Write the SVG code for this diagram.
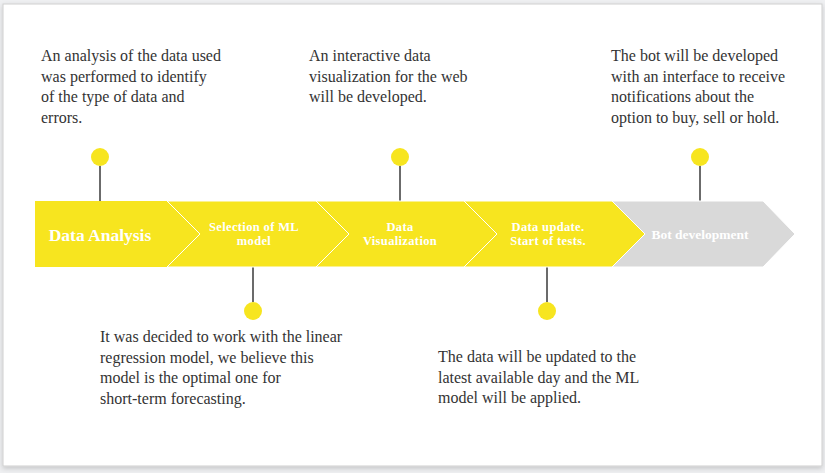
<svg xmlns="http://www.w3.org/2000/svg" width="825" height="473" viewBox="0 0 825 473">
  <defs>
    <filter id="shadow" x="-5%" y="-5%" width="110%" height="115%">
      <feDropShadow dx="0" dy="2" stdDeviation="2.5" flood-color="#000" flood-opacity="0.18"/>
    </filter>
  </defs>
  <style>
    .step { fill: #f7e51f; stroke: #ffffff; stroke-width: 1; }
    .step-next { fill: #d9d9d9; stroke: #ffffff; stroke-width: 1; }
    .label { font-family: "Liberation Serif", "DejaVu Serif", serif; font-weight: bold; fill: #ffffff; text-anchor: middle; font-size: 12.5px; letter-spacing: 0.35px; }
    .note { font-family: "Liberation Serif", "DejaVu Serif", serif; font-size: 16px; fill: #333333; }
    .pin-dot { fill: #f7e51f; }
    .pin-line { stroke: #6b6b6b; stroke-width: 2; }
  </style>

  <!-- page background and slide -->
  <rect x="0" y="0" width="825" height="473" fill="#eff0f2"/>
  <rect x="3" y="4" width="819" height="462" fill="#ffffff" stroke="#cfcfcf" stroke-width="1" filter="url(#shadow)"/>

  <!-- connectors: pins from steps to notes -->
  <g id="connectors">
    <line class="pin-line" x1="100" y1="166" x2="100" y2="201"/>
    <line class="pin-line" x1="253" y1="267" x2="253" y2="302"/>
    <line class="pin-line" x1="400" y1="166" x2="400" y2="201"/>
    <line class="pin-line" x1="547" y1="267" x2="547" y2="302"/>
    <line class="pin-line" x1="700" y1="166" x2="700" y2="201"/>
    <circle class="pin-dot" cx="100" cy="157" r="9"/>
    <circle class="pin-dot" cx="253" cy="311" r="9"/>
    <circle class="pin-dot" cx="400" cy="157" r="9"/>
    <circle class="pin-dot" cx="547" cy="311" r="9"/>
    <circle class="pin-dot" cx="700" cy="157" r="9"/>
  </g>

  <!-- timeline steps (last one drawn first so the yellow tip overlaps it) -->
  <g id="step-bot">
    <polygon class="step-next" points="612,201 763,201 795,234 763,267 612,267 645,234"/>
    <text class="label" x="700" y="238.5" style="font-size:13.5px;letter-spacing:0">Bot development</text>
  </g>
  <g id="step-update">
    <polygon class="step" points="464,201 612,201 645,234 612,267 464,267 497,234"/>
    <text class="label" x="548" y="230.5">Data update.</text>
    <text class="label" x="548" y="245">Start of tests.</text>
  </g>
  <g id="step-visualization">
    <polygon class="step" points="316,201 464,201 497,234 464,267 316,267 349,234"/>
    <text class="label" x="400" y="230.5">Data</text>
    <text class="label" x="400" y="245">Visualization</text>
  </g>
  <g id="step-selection">
    <polygon class="step" points="167,201 316,201 349,234 316,267 167,267 200,234"/>
    <text class="label" x="254" y="230.5">Selection of ML</text>
    <text class="label" x="254" y="245">model</text>
  </g>
  <g id="step-analysis">
    <polygon class="step" points="35,201 167,201 200,234 167,267 35,267" style="stroke:none"/>
    <line x1="167" y1="201" x2="200" y2="234" stroke="#ffffff" stroke-width="1"/>
    <line x1="200" y1="234" x2="167" y2="267" stroke="#ffffff" stroke-width="1"/>
    <text class="label" x="100" y="241" style="font-size:17.5px;letter-spacing:0">Data Analysis</text>
  </g>

  <!-- notes -->
  <g id="note-analysis">
    <text class="note" x="41" y="61">An analysis of the data used</text>
    <text class="note" x="41" y="81.5">was performed to identify</text>
    <text class="note" x="41" y="102">of the type of data and</text>
    <text class="note" x="41" y="122.5">errors.</text>
  </g>
  <g id="note-selection">
    <text class="note" x="100" y="342">It was decided to work with the linear</text>
    <text class="note" x="100" y="362.5">regression model, we believe this</text>
    <text class="note" x="100" y="383">model is the optimal one for</text>
    <text class="note" x="100" y="403.5">short-term forecasting.</text>
  </g>
  <g id="note-visualization">
    <text class="note" x="309" y="61">An interactive data</text>
    <text class="note" x="309" y="81.5">visualization for the web</text>
    <text class="note" x="309" y="102">will be developed.</text>
  </g>
  <g id="note-update">
    <text class="note" x="438" y="362">The data will be updated to the</text>
    <text class="note" x="438" y="382.5">latest available day and the ML</text>
    <text class="note" x="438" y="403">model will be applied.</text>
  </g>
  <g id="note-bot">
    <text class="note" x="611" y="61">The bot will be developed</text>
    <text class="note" x="611" y="81.5">with an interface to receive</text>
    <text class="note" x="611" y="102">notifications about the</text>
    <text class="note" x="611" y="122.5">option to buy, sell or hold.</text>
  </g>
</svg>
